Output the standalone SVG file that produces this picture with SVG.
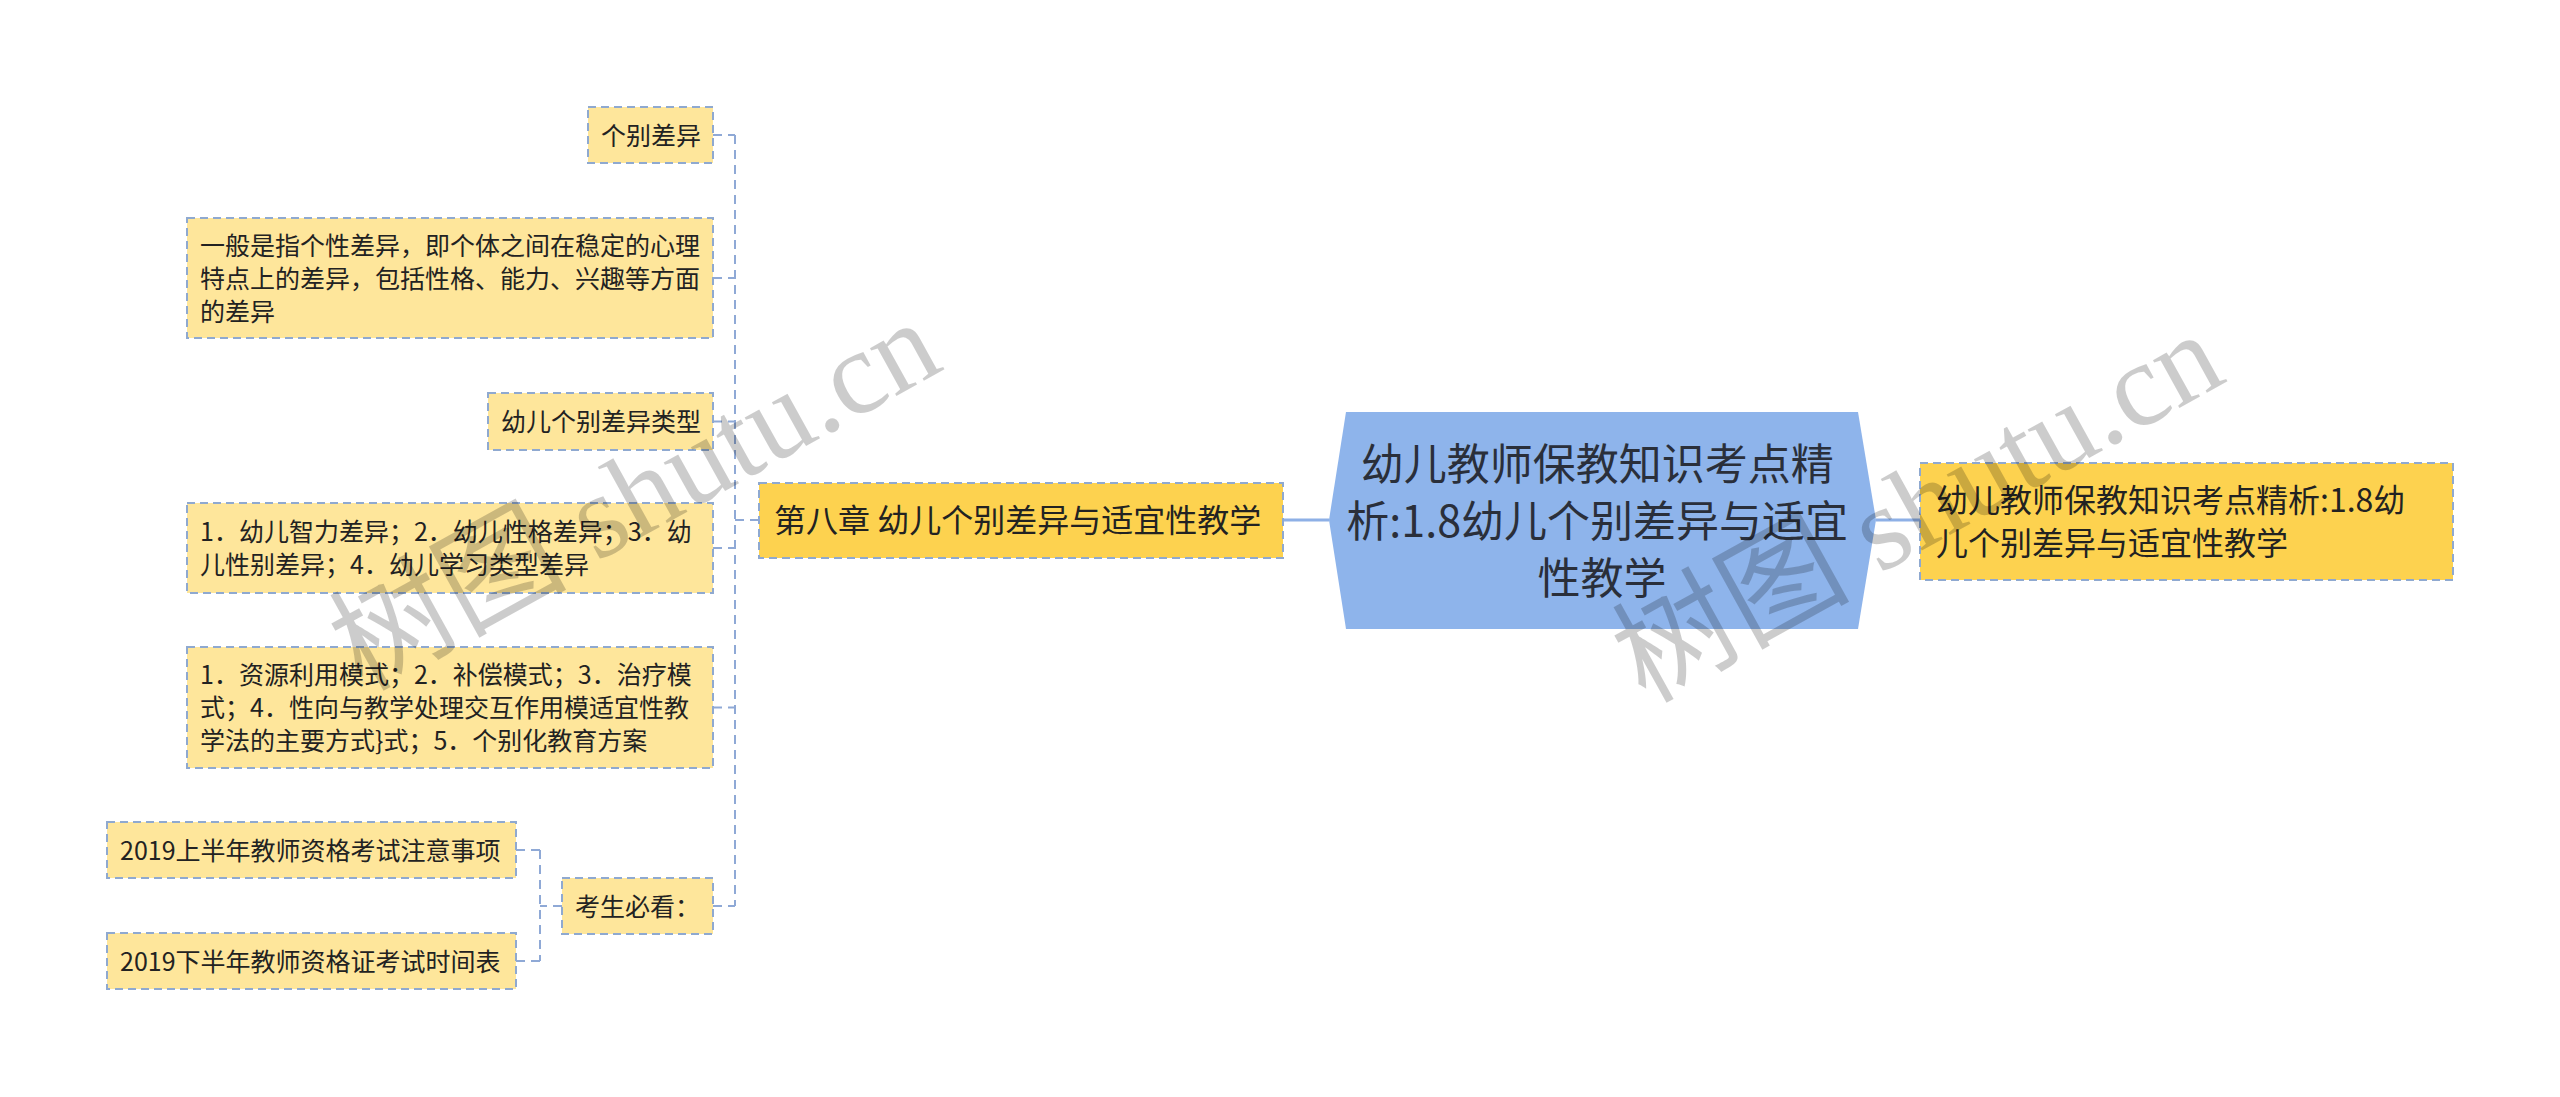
<svg xmlns="http://www.w3.org/2000/svg" width="2560" height="1097" viewBox="0 0 2560 1097">
<style>
  .leaf { fill: #FEE69B; stroke: #8FA9D0; stroke-width: 2; stroke-dasharray: 8 5; }
  .lvl1 { fill: #FDD24F; stroke: #8FA9D0; stroke-width: 2; stroke-dasharray: 8 5; }
  .root { fill: #8EB4EB; }
  .t { font-family: "Noto Sans CJK SC", "Noto Sans", sans-serif; fill: #222; }
  .t25 { font-size: 25px; }
  .t30 { font-size: 32px; }
  .t42 { font-size: 43px; fill: #2a2f3a; }
  .dash { fill: none; stroke: #8FA9D6; stroke-width: 2; stroke-dasharray: 9 6; }
  .solid { fill: none; stroke: #8EB0E6; stroke-width: 3; }
  .wm { font-family: "Liberation Serif", "Noto Sans CJK SC", serif; font-size: 119px; fill: #000; fill-opacity: 0.2; }
</style>
<rect width="2560" height="1097" fill="#ffffff"/>

<g id="connectors">
  <path class="solid" d="M1283 520 H1329"/>
  <path class="solid" d="M1876 520 H1920"/>
  <path class="dash" d="M759 520 H735"/>
  <path class="dash" d="M735 135 V906"/>
  <path class="dash" d="M713 135 H735"/>
  <path class="dash" d="M713 278 H735"/>
  <path class="dash" d="M713 421.5 H735"/>
  <path class="dash" d="M713 548 H735"/>
  <path class="dash" d="M713 707.5 H735"/>
  <path class="dash" d="M713 906 H735"/>
  <path class="dash" d="M562 906 H540"/>
  <path class="dash" d="M540 850 V961"/>
  <path class="dash" d="M516 850 H540"/>
  <path class="dash" d="M516 961 H540"/>
</g>

<g id="root">
  <polygon class="root" points="1346,412 1858,412 1876,520 1858,629 1346,629 1329,520"/>
  <text class="t t42" text-anchor="middle">
    <tspan x="1602" y="480">幼儿教师保教知识考点精</tspan>
    <tspan x="1602" y="537">析:1.8幼儿个别差异与适宜</tspan>
    <tspan x="1602" y="594">性教学</tspan>
  </text>
</g>

<g id="right-node">
  <rect class="lvl1" x="1920" y="463" width="533" height="117"/>
  <text class="t t30">
    <tspan x="1936" y="512">幼儿教师保教知识考点精析:1.8幼</tspan>
    <tspan x="1936" y="555">儿个别差异与适宜性教学</tspan>
  </text>
</g>

<g id="chapter8">
  <rect class="lvl1" x="759" y="483" width="524" height="75"/>
  <text class="t t30" x="774" y="532">第八章 幼儿个别差异与适宜性教学</text>
</g>

<g id="leaf-1">
  <rect class="leaf" x="588" y="107" width="125" height="56"/>
  <text class="t t25" x="601" y="144.5">个别差异</text>
</g>

<g id="leaf-2">
  <rect class="leaf" x="187" y="218" width="526" height="120"/>
  <text class="t t25">
    <tspan x="200" y="254.5">一般是指个性差异，即个体之间在稳定的心理</tspan>
    <tspan x="200" y="287.5">特点上的差异，包括性格、能力、兴趣等方面</tspan>
    <tspan x="200" y="320.5">的差异</tspan>
  </text>
</g>

<g id="leaf-3">
  <rect class="leaf" x="488" y="393" width="225" height="57"/>
  <text class="t t25" x="501" y="431">幼儿个别差异类型</text>
</g>

<g id="leaf-4">
  <rect class="leaf" x="187" y="503" width="526" height="90"/>
  <text class="t t25">
    <tspan x="200" y="541">1．幼儿智力差异；2．幼儿性格差异；3．幼</tspan>
    <tspan x="200" y="574">儿性别差异；4．幼儿学习类型差异</tspan>
  </text>
</g>

<g id="leaf-5">
  <rect class="leaf" x="187" y="647" width="526" height="121"/>
  <text class="t t25">
    <tspan x="200" y="684">1．资源利用模式；2．补偿模式；3．治疗模</tspan>
    <tspan x="200" y="717">式；4．性向与教学处理交互作用模适宜性教</tspan>
    <tspan x="200" y="750">学法的主要方式}式；5．个别化教育方案</tspan>
  </text>
</g>

<g id="leaf-6">
  <rect class="leaf" x="562" y="878" width="151" height="56"/>
  <text class="t t25" x="575" y="915.5">考生必看：</text>
</g>

<g id="leaf-6-1">
  <rect class="leaf" x="107" y="822" width="409" height="56"/>
  <text class="t t25" x="120" y="859.5">2019上半年教师资格考试注意事项</text>
</g>

<g id="leaf-6-2">
  <rect class="leaf" x="107" y="933" width="409" height="56"/>
  <text class="t t25" x="120" y="970.5">2019下半年教师资格证考试时间表</text>
</g>

<g id="watermarks">
  <text class="wm" transform="translate(362 692) rotate(-29)">树图 shutu.cn</text>
  <text class="wm" transform="translate(1645 704) rotate(-29)">树图 shutu.cn</text>
</g>
</svg>
